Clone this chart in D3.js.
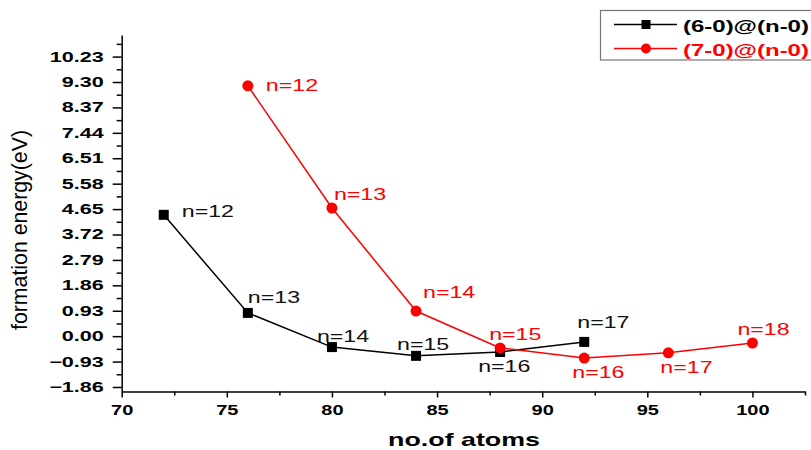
<!DOCTYPE html>
<html>
<head>
<meta charset="utf-8">
<script src="https://cdn.jsdelivr.net/npm/d3@7"></script>
<style>
  html, body { margin: 0; padding: 0; background: #fff; }
  svg { display: block; font-family: "Liberation Sans", Arial, sans-serif; }
</style>
</head>
<body>
<svg id="chart" width="811" height="450"></svg>
<script>
// ---- data ----
const seriesNames = ["(6-0)@(n-0)", "(7-0)@(n-0)"];
const atoms6 = [72, 76, 80, 84, 88, 92];
const energy6 = [4.44, 0.85, -0.40, -0.72, -0.58, -0.21];
const labels6 = ["n=12", "n=13", "n=14", "n=15", "n=16", "n=17"];
const atoms7 = [76, 80, 84, 88, 92, 96, 100];
const energy7 = [9.16, 4.69, 0.92, -0.43, -0.80, -0.61, -0.25];
const labels7 = ["n=12", "n=13", "n=14", "n=15", "n=16", "n=17", "n=18"];
const xTicks = [70, 75, 80, 85, 90, 95, 100];
const xMinorTicks = [72.5, 77.5, 82.5, 87.5, 92.5, 97.5, 102.5];
const yTicks = [-1.86, -0.93, 0.00, 0.93, 1.86, 2.79, 3.72, 4.65, 5.58, 6.51, 7.44, 8.37, 9.30, 10.23];
const xTitle = "no.of atoms";
const yTitle = "formation energy(eV)";

// ---- layout ----
const svg = d3.select("#chart");
const x = d3.scaleLinear().domain([70, 102.5]).range([121.7, 805]);
const y = d3.scaleLinear().domain([-2.025, 11.02]).range([391.5, 35]);
const RED = "#ff0000";
const STRETCH = 1.45;

// label offsets (pixels, relative to each point)
const off6 = [[18, 2], [0, -10], [-15, -5], [-19, -6], [-22, 20], [-7, -14]];
const off7 = [[18, 5], [2, -8], [7, -13], [-11, -8], [-12, 20], [-8, 20], [-15, -8]];

function stretchedText(g, tx, ty, str, opts) {
  return g.append("text")
    .attr("transform", `translate(${tx},${ty}) scale(${opts.sx || STRETCH},1)`)
    .attr("text-anchor", opts.anchor || "start")
    .attr("font-size", opts.size)
    .attr("font-weight", opts.weight || "normal")
    .attr("fill", opts.color || "#000")
    .text(str);
}

// minor ticks
const minorY = [];
for (let i = 0; i < yTicks.length - 1; i++) minorY.push((yTicks[i] + yTicks[i + 1]) / 2);
minorY.push(yTicks[yTicks.length - 1] + (yTicks[1] - yTicks[0]) / 2);

svg.append("g").attr("transform", `translate(${x.range()[0]},0)`)
  .call(d3.axisLeft(y).tickValues(minorY).tickSize(5).tickFormat("").tickSizeOuter(0))
  .call(g => g.select(".domain").remove())
  .selectAll("line").attr("stroke", "#000").attr("stroke-width", 1.5);

svg.append("g").attr("transform", `translate(0,${y.range()[0]})`)
  .call(d3.axisBottom(x).tickValues(xMinorTicks).tickSize(4).tickFormat("").tickSizeOuter(0))
  .call(g => g.select(".domain").remove())
  .selectAll("line").attr("stroke", "#000").attr("stroke-width", 1.5);

// y axis
const yAxisG = svg.append("g").attr("transform", `translate(${x.range()[0]},0)`)
  .call(d3.axisLeft(y).tickValues(yTicks).tickSize(9).tickSizeOuter(0).tickFormat(d3.format(".2f")));
yAxisG.select(".domain").attr("stroke", "#000").attr("stroke-width", 1.5);
yAxisG.selectAll(".tick line").attr("stroke", "#000").attr("stroke-width", 1.5);
yAxisG.selectAll(".tick text")
  .attr("x", -18 / 1.54)
  .attr("dy", "0.32em")
  .attr("transform", "scale(1.54,1)")
  .attr("font-family", "Liberation Sans, Arial, sans-serif")
  .attr("font-size", 14).attr("font-weight", "bold").attr("fill", "#000");

// x axis
const xAxisG = svg.append("g").attr("transform", `translate(0,${y.range()[0]})`)
  .call(d3.axisBottom(x).tickValues(xTicks).tickSize(6).tickSizeOuter(0));
xAxisG.select(".domain").attr("stroke", "#000").attr("stroke-width", 1.5);
xAxisG.selectAll(".tick line").attr("stroke", "#000").attr("stroke-width", 1.5);
xAxisG.selectAll(".tick text")
  .attr("y", 23.5).attr("dy", 0)
  .attr("transform", "scale(1.43,1)")
  .attr("font-family", "Liberation Sans, Arial, sans-serif")
  .attr("font-size", 14).attr("font-weight", "bold").attr("fill", "#000");

// titles
stretchedText(svg, 464, 446, xTitle, { size: 18, weight: "bold", anchor: "middle", sx: 1.49 });
svg.append("text")
  .attr("transform", "translate(27,230) rotate(-90)")
  .attr("text-anchor", "middle")
  .attr("font-size", 22)
  .attr("textLength", 200)
  .attr("lengthAdjust", "spacingAndGlyphs")
  .attr("fill", "#000")
  .text(yTitle);

// lines
const line = d3.line().x(d => x(d[0])).y(d => y(d[1]));
const pts6 = atoms6.map((a, i) => [a, energy6[i]]);
const pts7 = atoms7.map((a, i) => [a, energy7[i]]);

svg.append("path").datum(pts6).attr("d", line)
  .attr("fill", "none").attr("stroke", "#000").attr("stroke-width", 1.5);
svg.append("path").datum(pts7).attr("d", line)
  .attr("fill", "none").attr("stroke", RED).attr("stroke-width", 1.5);

svg.append("g").selectAll("rect").data(pts6).join("rect")
  .attr("x", d => x(d[0]) - 5).attr("y", d => y(d[1]) - 5)
  .attr("width", 10).attr("height", 10).attr("fill", "#000");
svg.append("g").selectAll("circle").data(pts7).join("circle")
  .attr("cx", d => x(d[0])).attr("cy", d => y(d[1])).attr("r", 5.5).attr("fill", RED);

// point labels
const lg = svg.append("g");
pts6.forEach((d, i) => stretchedText(lg, x(d[0]) + off6[i][0], y(d[1]) + off6[i][1], labels6[i], { size: 16, color: "#111" }));
pts7.forEach((d, i) => stretchedText(lg, x(d[0]) + off7[i][0], y(d[1]) + off7[i][1], labels7[i], { size: 16, color: RED }));

// legend
const leg = svg.append("g");
leg.append("rect").attr("x", 600.5).attr("y", 10.5).attr("width", 240).attr("height", 49.5)
  .attr("fill", "#fff").attr("stroke", "#777").attr("stroke-width", 1.2);
[["#000", "rect"], [RED, "circle"]].forEach(([col, shape], i) => {
  const ly = 24.5 + i * 24;
  leg.append("line").attr("x1", 614).attr("x2", 677).attr("y1", ly).attr("y2", ly)
    .attr("stroke", col).attr("stroke-width", 1.5);
  if (shape === "rect") {
    leg.append("rect").attr("x", 646 - 4.5).attr("y", ly - 4.5).attr("width", 9).attr("height", 9).attr("fill", col);
  } else {
    leg.append("circle").attr("cx", 646).attr("cy", ly).attr("r", 5).attr("fill", col);
  }
  stretchedText(leg, 683, ly + 7.5, seriesNames[i], { size: 16, weight: "bold", color: col, sx: 1.5 });
});
</script>
</body>
</html>
